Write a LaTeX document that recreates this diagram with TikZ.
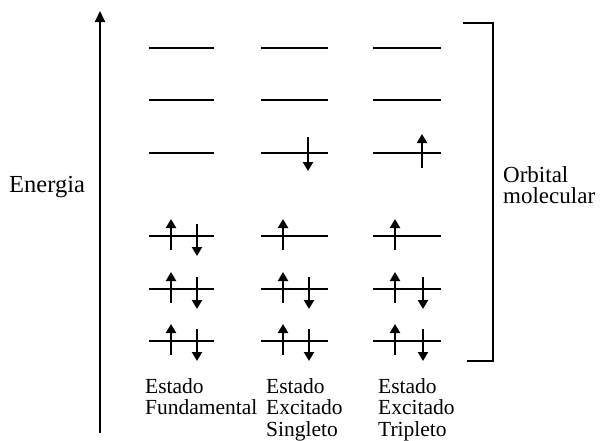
\documentclass[tikz,border=0pt]{standalone}
\usepackage{fontspec}
\setmainfont{Liberation Serif}
\usetikzlibrary{arrows.meta}
\begin{document}
\begin{tikzpicture}[x=1pt,y=-1pt,
  lvl/.style={line width=2.6pt},
  elec/.style={line width=2.2pt,-{Triangle[width=10pt,length=9pt]}},
  lab/.style={font=\fontsize{21.5}{21.5}\selectfont, inner sep=0pt, align=left, anchor=north west}]
\useasboundingbox (0,0) rectangle (605,440);
% energy axis
\coordinate (ax0) at (100,433);
\coordinate (ax1) at (100,11);
\draw[line width=2pt,-{Triangle[width=10pt,length=11pt]}] (ax0) -- (ax1);
\node[lab, anchor=base west, font=\fontsize{24.5}{24}\selectfont] (energia) at (9,192) {Energia};
% levels
\foreach \c/\xa/\xb in {1/149/214, 2/261/328, 3/373/441}{
  \foreach \r/\y in {1/48, 2/100, 3/153, 4/236, 5/289, 6/341}{
    \coordinate (L\c\r w) at (\xa,\y);
    \coordinate (L\c\r e) at (\xb,\y);
    \draw[lvl] (L\c\r w) -- (L\c\r e);
  }
}
% electrons
\foreach \r/\y in {4/236,5/289,6/341}{
  \draw[elec] (171,\y+14) -- (171,\y-17);
  \draw[elec] (283,\y+14) -- (283,\y-17);
  \draw[elec] (395,\y+14) -- (395,\y-17);
}
\foreach \r/\y in {5/289,6/341}{
  \draw[elec] (197,\y-12) -- (197,\y+20);
  \draw[elec] (309,\y-12) -- (309,\y+20);
  \draw[elec] (423,\y-12) -- (423,\y+20);
}
\draw[elec] (197,224) -- (197,256);
\draw[elec] (308,137) -- (308,171);
\draw[elec] (422,168) -- (422,134);
% bracket
\coordinate (b1) at (463,23);
\coordinate (b2) at (493,23);
\coordinate (b3) at (493,361);
\coordinate (b4) at (467,361);
\draw[line width=2pt] (b1) -- (b2) -- (b3) -- (b4);
\node[lab, font=\fontsize{23}{21.5}\selectfont] (orb) at (503,166) {Orbital\\molecular};
% state labels
\node[lab] (s1) at (145,378) {Estado\\Fundamental};
\node[lab] (s2) at (266,378) {Estado\\Excitado\\Singleto};
\node[lab] (s3) at (378,378) {Estado\\Excitado\\Tripleto};
\end{tikzpicture}
\end{document}
